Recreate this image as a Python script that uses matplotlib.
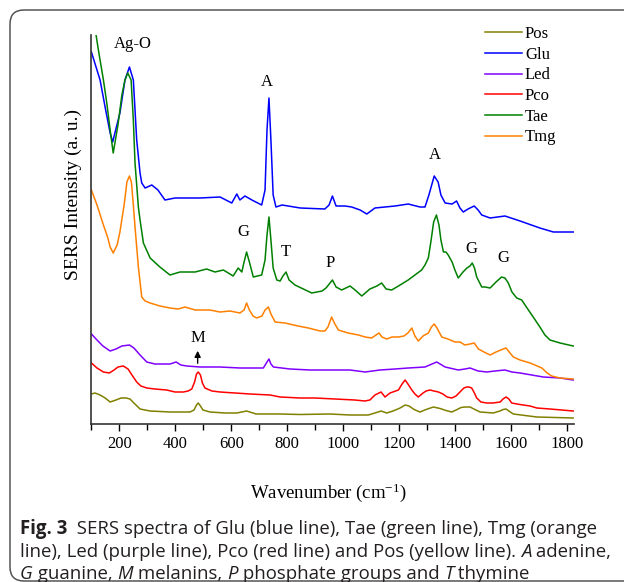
import matplotlib
matplotlib.use("Agg")
import matplotlib.pyplot as plt
from matplotlib.ticker import MultipleLocator
from matplotlib.patches import PathPatch
from matplotlib.path import Path
from matplotlib.transforms import IdentityTransform

plt.rcParams['font.family'] = ['Liberation Serif', 'DejaVu Serif']
plt.rcParams['mathtext.fontset'] = 'custom'
plt.rcParams['mathtext.rm'] = 'Liberation Serif'
plt.rcParams['mathtext.it'] = 'Liberation Serif:italic'

# Spectra (wavenumber in cm-1, intensity in a.u. with offsets)
pos_wn = [100, 113, 131, 149, 167, 188, 206, 224, 238, 252, 274, 310, 381, 453, 467, 476, 482, 490, 499, 524,
          578, 620, 655, 689, 775, 846, 953, 1025, 1090, 1114, 1136, 1156, 1179, 1204, 1222, 1236, 1254, 1275,
          1297, 1323, 1347, 1368, 1389, 1408, 1422, 1436, 1454, 1468, 1490, 1537, 1561, 1572, 1583, 1593, 1609,
          1651, 1693, 1758, 1823]
pos_int = [30, 31, 29, 26, 22, 24, 26, 26, 25, 21, 15, 13, 12, 12, 14, 19, 21, 18, 14, 12,
           11, 11, 13, 10, 10, 9.5, 10, 9, 9, 11, 13, 11, 13, 16, 19, 18, 14.5, 12,
           14.5, 17, 15.5, 13.5, 12, 14.5, 16.5, 17, 17, 15, 12, 11, 13, 14.5, 15, 13, 10,
           8.5, 7, 6.5, 6]

glu_wn = [100, 131, 149, 167, 176, 202, 220, 236, 250, 262, 274, 280, 292, 316, 338, 363, 399, 488, 560, 602,
          620, 631, 649, 674, 709, 721, 728, 735, 742, 750, 760, 782, 847, 935, 950, 962, 975, 1007, 1031, 1061,
          1085, 1114, 1186, 1233, 1275, 1293, 1307, 1326, 1340, 1350, 1365, 1390, 1406, 1418, 1430, 1447, 1469,
          1483, 1496, 1526, 1579, 1633, 1704, 1752, 1823]
glu_int = [372, 344, 317, 291, 282, 311, 344, 357, 344, 284, 251, 241, 236, 239, 234, 224, 226, 226, 227, 221,
           230, 224, 228, 224, 219, 234, 294, 326, 284, 229, 217, 219, 216, 215, 219, 228, 218, 218, 217, 214,
           210, 216, 218, 220, 217, 217, 229, 248, 242, 229, 221, 220, 223, 216, 212, 215, 218,
           214, 209, 206, 208, 203, 196, 192, 192]

led_wn = [100, 120, 141, 167, 188, 209, 236, 252, 274, 298, 327, 357, 381, 403, 420, 441, 488, 560, 631, 715,
          728, 735, 742, 751, 810, 882, 953, 1025, 1079, 1132, 1186, 1233, 1293, 1318, 1335, 1347, 1365, 1412,
          1436, 1454, 1483, 1514, 1543, 1579, 1604, 1633, 1716, 1776, 1823]
led_int = [90, 84, 78, 73, 75, 78, 79, 76, 69, 62, 60, 60, 60, 62, 59, 58, 57, 57, 56, 56,
           62, 65, 60, 57, 55, 54, 54, 54, 52, 54, 55, 56, 57, 60, 62, 60, 57, 54,
           55, 56, 53, 52, 53, 54, 52, 51, 47, 46, 44]

pco_wn = [100, 120, 143, 164, 181, 195, 214, 231, 245, 262, 277, 298, 327, 369, 399, 429, 446, 459, 469, 476,
          482, 490, 497, 506, 531, 560, 614, 667, 739, 775, 846, 899, 971, 1042, 1078, 1096, 1114, 1136, 1150,
          1168, 1198, 1211, 1222, 1232, 1246, 1257, 1269, 1286, 1297, 1311, 1325, 1341, 1357, 1372, 1389, 1404,
          1418, 1432, 1442, 1450, 1460, 1468, 1478, 1493, 1514, 1536, 1562, 1572, 1583, 1593, 1603, 1622, 1644,
          1669, 1693, 1740, 1823]
pco_int = [61, 56, 52, 51, 54, 57, 58, 55, 49, 42, 38, 36, 35, 34, 32, 32, 33, 35, 42, 50,
           52, 49, 41, 36, 33, 32, 31, 30, 29, 27, 26, 26, 25, 24, 23, 24, 29, 32, 27,
           31, 34, 40, 44, 40, 34, 30, 27, 31, 33, 34, 33, 32, 30, 27, 26, 28,
           32, 36, 37, 37, 36, 32, 26, 22, 21, 21, 22, 25, 27, 25, 21, 20, 19,
           18, 16, 15, 13]

tae_wn = [100, 125, 143, 155, 167, 178, 195, 209, 220, 230, 242, 250, 256, 268, 274, 286, 310, 345, 381, 417,
          471, 512, 542, 572, 607, 625, 638, 646, 655, 665, 679, 709, 721, 728, 735, 742, 750, 763, 775, 785,
          796, 807, 828, 888, 925, 939, 962, 975, 995, 1025, 1043, 1067, 1096, 1121, 1138, 1154, 1174, 1204,
          1233, 1257, 1281, 1293, 1305, 1315, 1324, 1334, 1343, 1350, 1359, 1368, 1376, 1390, 1400, 1412, 1429,
          1443, 1454, 1462, 1470, 1478, 1496, 1508, 1526, 1547, 1567, 1579, 1591, 1604, 1621, 1639, 1658, 1680,
          1704, 1722, 1740, 1776, 1823]
tae_int = [419, 374, 344, 321, 294, 271, 299, 329, 344, 351, 344, 304, 261, 217, 204, 181, 166, 157, 149, 152,
           152, 155, 152, 154, 148, 156, 152, 162, 172, 162, 147, 149, 164, 189, 207, 184, 156, 144, 143, 148,
           152, 144, 139, 131, 133, 136, 144, 137, 134, 138, 134, 128, 135, 138, 141, 135, 134, 139,
           144, 149, 154, 159, 166, 184, 202, 209, 199, 184, 172, 172, 169, 162, 154, 146, 152,
           156, 158, 161, 156, 147, 137, 137, 136, 142, 147, 146, 141, 132, 126, 124, 116, 107,
           97, 89, 84, 81, 78]

tmg_wn = [100, 120, 143, 159, 167, 178, 192, 202, 217, 227, 236, 243, 250, 256, 268, 280, 292, 310, 345, 381,
          410, 435, 471, 524, 560, 596, 631, 646, 655, 665, 678, 691, 710, 721, 733, 742, 757, 792, 839, 876,
          918, 935, 946, 959, 969, 983, 1018, 1055, 1079, 1102, 1118, 1129, 1139, 1156, 1175, 1198, 1218, 1232,
          1246, 1257, 1269, 1286, 1305, 1316, 1326, 1336, 1353, 1375, 1400, 1418, 1436, 1454, 1469, 1484, 1504,
          1526, 1547, 1573, 1583, 1597, 1609, 1633, 1669, 1711, 1730, 1746, 1776, 1823]
tmg_int = [234, 219, 199, 186, 177, 171, 179, 192, 219, 242, 248, 242, 219, 197, 157, 127, 123, 121, 118, 116,
           115, 117, 114, 114, 112, 113, 111, 114, 121, 114, 108, 106, 108, 114, 117, 110, 102, 101, 98, 96,
           93, 93, 97, 107, 101, 94, 91, 89, 87, 86, 89, 91, 87, 85, 87, 87, 88, 91,
           96, 88, 83, 88, 91, 97, 100, 96, 87, 85, 82, 82, 79, 80, 81, 75, 72,
           69, 72, 75, 76, 71, 67, 64, 61, 56, 51, 48, 46, 45]

names = ['Pos', 'Glu', 'Led', 'Pco', 'Tae', 'Tmg']
colors = ['#808000', '#0000ff', '#8000ff', '#ff0000', '#008000', '#ff8000']
spectra = [(pos_wn, pos_int), (glu_wn, glu_int), (led_wn, led_int),
           (pco_wn, pco_int), (tae_wn, tae_int), (tmg_wn, tmg_int)]

# band assignments: (label, wavenumber, intensity)
peak_labels = ['Ag-O', 'A', 'A', 'G', 'T', 'P', 'G', 'G', 'M']
peak_x = [249, 727, 1329, 643, 796, 953, 1460, 1573, 480]
peak_y = [380, 342, 269, 192, 172, 161, 175, 166, 86]

W, H = 624, 582
fig = plt.figure(figsize=(W / 100, H / 100), dpi=100)
ax = fig.add_axes([91.4 / W, 1 - 424 / H, 482.9 / W, 389 / H])

for (wn, inten), name, c in zip(spectra, names, colors):
    ax.plot(wn, inten, color=c, lw=1.1, label=name)

for lab, px, py in zip(peak_labels, peak_x, peak_y):
    ax.text(px, py, lab, fontsize=12, ha='center', va='center')
ax.annotate('', xy=(480, 76), xytext=(480, 58),
            arrowprops=dict(arrowstyle='-|>', color='black', lw=1, mutation_scale=9))

ax.set_xlim(100, 1827)
ax.set_ylim(0, 389)
ax.spines['top'].set_visible(False)
ax.spines['right'].set_visible(False)
for s in ['left', 'bottom']:
    ax.spines[s].set_linewidth(1.2)
    ax.spines[s].set_color('#333333')
ax.set_yticks([])
ax.xaxis.set_major_locator(MultipleLocator(200))
ax.xaxis.set_minor_locator(MultipleLocator(100))
ax.tick_params(axis='x', which='major', length=5, width=1, direction='out', labelsize=12, pad=4)
ax.tick_params(axis='x', which='minor', length=4, width=1, direction='out')
ax.set_xlabel('Wavenumber (cm$^{-1}$)', fontsize=13.5)
ax.xaxis.set_label_coords(0.49, -0.148)
ax.set_ylabel('SERS Intensity (a. u.)', fontsize=14)
ax.yaxis.set_label_coords(-0.02, 0.59)

ax.legend(loc='upper left', bbox_to_anchor=(485 / W, 1 - 26 / H), bbox_transform=fig.transFigure,
          frameon=False, fontsize=12, handlelength=2.2, handletextpad=0.2, labelspacing=0.28,
          borderpad=0, borderaxespad=0)

# frame round figure + caption: open on the right, rounded corners on the left
r = 14
frame_path = Path([(W + 20, H - 10), (10 + r, H - 10), (10, H - 10), (10, H - 10 - r),
                   (10, 1 + r), (10, 1), (10 + r, 1), (W + 20, 1)],
                  [Path.MOVETO, Path.LINETO, Path.CURVE3, Path.CURVE3,
                   Path.LINETO, Path.CURVE3, Path.CURVE3, Path.LINETO])
fig.add_artist(PathPatch(frame_path, transform=IdentityTransform(), fill=False,
                         edgecolor='#555555', lw=1.1))

renderer = fig.canvas.get_renderer()
cap_size = 13.4
bar = fig.text(0, 0, '|', fontsize=cap_size, family='Open Sans')
bar_w = bar.get_window_extent(renderer).width
bar.remove()


def caption_line(y, pieces):
    x = 20
    for txt, weight, style in pieces:
        fig.text(x / W, 1 - y / H, txt, fontsize=cap_size, family='Open Sans', weight=weight,
                 style=style, va='baseline', color='#231f20')
        m = fig.text(0, 0, txt + '|', fontsize=cap_size, family='Open Sans', weight=weight, style=style)
        x += m.get_window_extent(renderer).width - bar_w
        m.remove()


caption_line(534, [('Fig. 3', 'bold', 'normal'),
                   ('  SERS spectra of Glu (blue line), Tae (green line), Tmg (orange', 'normal', 'normal')])
caption_line(557, [('line), Led (purple line), Pco (red line) and Pos (yellow line). ', 'normal', 'normal'),
                   ('A', 'normal', 'italic'), (' adenine,', 'normal', 'normal')])
caption_line(579, [('G', 'normal', 'italic'), (' guanine, ', 'normal', 'normal'),
                   ('M', 'normal', 'italic'), (' melanins, ', 'normal', 'normal'),
                   ('P', 'normal', 'italic'), (' phosphate groups and ', 'normal', 'normal'),
                   ('T', 'normal', 'italic'), (' thymine', 'normal', 'normal')])

fig.savefig('out.png', dpi=100)
